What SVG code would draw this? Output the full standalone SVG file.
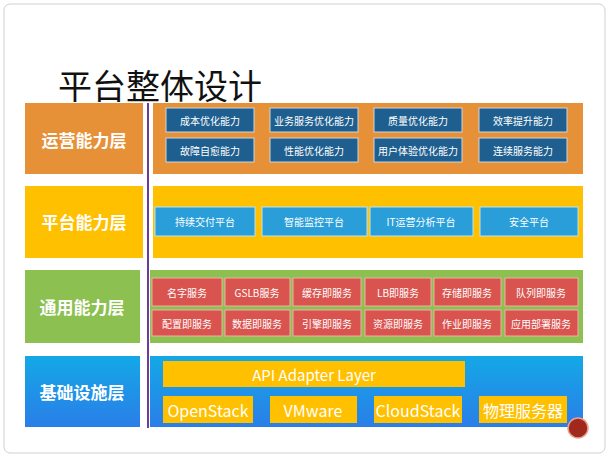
<svg xmlns="http://www.w3.org/2000/svg" width="609" height="457" viewBox="0 0 609 457">
<style>
text{font-family:"Noto Sans CJK SC","Liberation Sans",sans-serif;text-anchor:middle;dominant-baseline:central}
.lab{fill:#fff;font-size:17px;font-weight:bold}
.b{fill:#1f5f8f;stroke:#c9d6e0;stroke-width:1}
.bt{fill:#fff;font-size:10px}
.y{fill:#2a9ed8;stroke:#b9e4f5;stroke-width:1}
.r{fill:#d9534f;stroke:#f0b0a8;stroke-width:1}
.o{fill:#ffc000}
.ot{fill:#fff;font-size:16px}
</style>
<rect x="4" y="4" width="601" height="449" rx="6" fill="#fff" stroke="#d0d0d0"/>
<text x="160" y="84" style="font-size:34px;fill:#111;font-weight:normal">平台整体设计</text>
<g id="ops">
<rect x="25" y="103" width="118" height="71" fill="#e69138"/>
<rect x="153" y="103" width="430" height="71" fill="#e69138"/>
<text class="lab" x="84" y="139">运营能力层</text>
<rect class="b" x="166" y="108" width="88" height="24"/><text class="bt" x="210" y="120">成本优化能力</text>
<rect class="b" x="270" y="108" width="88" height="24"/><text class="bt" x="314" y="120">业务服务优化能力</text>
<rect class="b" x="374" y="108" width="88" height="24"/><text class="bt" x="418" y="120">质量优化能力</text>
<rect class="b" x="479" y="108" width="88" height="24"/><text class="bt" x="523" y="120">效率提升能力</text>
<rect class="b" x="166" y="138" width="88" height="24"/><text class="bt" x="210" y="150">故障自愈能力</text>
<rect class="b" x="270" y="138" width="88" height="24"/><text class="bt" x="314" y="150">性能优化能力</text>
<rect class="b" x="374" y="138" width="88" height="24"/><text class="bt" x="418" y="150">用户体验优化能力</text>
<rect class="b" x="479" y="138" width="88" height="24"/><text class="bt" x="523" y="150">连续服务能力</text>
</g>
<g id="platform">
<rect x="25" y="186" width="118" height="72" fill="#ffc000"/>
<rect x="153" y="186" width="430" height="72" fill="#ffc000"/>
<text class="lab" x="84" y="221">平台能力层</text>
<rect class="y" x="155" y="207" width="100" height="29"/><text class="bt" x="205" y="221">持续交付平台</text>
<rect class="y" x="262" y="207" width="105" height="29"/><text class="bt" x="314" y="221">智能监控平台</text>
<rect class="y" x="370" y="207" width="103" height="29"/><text class="bt" x="421" y="221">IT运营分析平台</text>
<rect class="y" x="480" y="207" width="98" height="29"/><text class="bt" x="529" y="221">安全平台</text>
</g>
<g id="common">
<rect x="25" y="270" width="115" height="73" fill="#8cc152"/>
<rect x="150" y="270" width="433" height="73" fill="#8cc152"/>
<text class="lab" x="82" y="306">通用能力层</text>
<rect class="r" x="152" y="278" width="70" height="28"/><text class="bt" x="187" y="292">名字服务</text>
<rect class="r" x="225" y="278" width="65" height="28"/><text class="bt" x="257" y="292">GSLB服务</text>
<rect class="r" x="293" y="278" width="68" height="28"/><text class="bt" x="327" y="292">缓存即服务</text>
<rect class="r" x="365" y="278" width="66" height="28"/><text class="bt" x="398" y="292">LB即服务</text>
<rect class="r" x="434" y="278" width="67" height="28"/><text class="bt" x="467" y="292">存储即服务</text>
<rect class="r" x="505" y="278" width="73" height="28"/><text class="bt" x="541" y="292">队列即服务</text>
<rect class="r" x="152" y="310" width="70" height="26"/><text class="bt" x="187" y="323">配置即服务</text>
<rect class="r" x="225" y="310" width="65" height="26"/><text class="bt" x="257" y="323">数据即服务</text>
<rect class="r" x="293" y="310" width="68" height="26"/><text class="bt" x="327" y="323">引擎即服务</text>
<rect class="r" x="365" y="310" width="66" height="26"/><text class="bt" x="398" y="323">资源即服务</text>
<rect class="r" x="434" y="310" width="67" height="26"/><text class="bt" x="467" y="323">作业即服务</text>
<rect class="r" x="505" y="310" width="73" height="26"/><text class="bt" x="541" y="323">应用部署服务</text>
</g>
<g id="infra">
<defs><linearGradient id="bl" x1="0" y1="0" x2="0" y2="1"><stop offset="0" stop-color="#14a8e6"/><stop offset="1" stop-color="#2a7ee8"/></linearGradient></defs>
<rect x="25" y="356" width="115" height="71" fill="url(#bl)"/>
<rect x="150" y="356" width="433" height="71" fill="url(#bl)"/>
<text class="lab" x="82" y="391">基础设施层</text>
<rect class="o" x="163" y="361" width="302" height="26"/><text class="ot" x="314" y="374" style="font-size:15px">API Adapter Layer</text>
<rect class="o" x="163" y="396" width="90" height="27"/><text class="ot" x="208" y="410">OpenStack</text>
<rect class="o" x="270" y="396" width="87" height="27"/><text class="ot" x="313" y="410">VMware</text>
<rect class="o" x="374" y="396" width="88" height="27"/><text class="ot" x="418" y="410">CloudStack</text>
<rect class="o" x="479" y="396" width="88" height="27"/><text class="ot" x="523" y="410">物理服务器</text>
</g>
<g id="connectors">
<line x1="148" y1="103" x2="148" y2="428" stroke="#6a3d9a" stroke-width="2"/>
</g>
<circle cx="578" cy="428" r="10" fill="#a0281c" stroke="#e8a090" stroke-width="1.5"/>
</svg>
